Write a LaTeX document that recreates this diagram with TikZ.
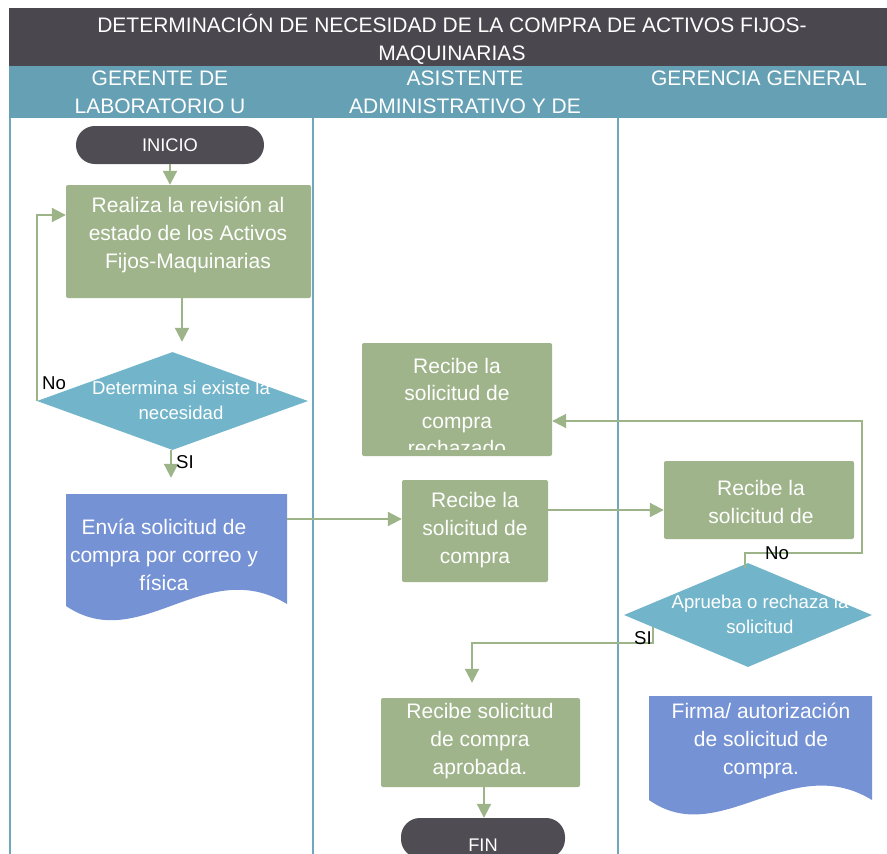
\documentclass[tikz,border=0pt]{standalone}
\usepackage{fontspec}
\setmainfont{Liberation Sans}
\usetikzlibrary{arrows.meta,shapes.geometric}
\definecolor{titlebg}{HTML}{4A474E}
\definecolor{headbg}{HTML}{65A0B4}
\definecolor{laneline}{HTML}{6FA8BC}
\definecolor{boxgreen}{HTML}{9FB48A}
\definecolor{conngreen}{HTML}{9CB488}
\definecolor{diafill}{HTML}{72B5CA}
\definecolor{docblue}{HTML}{7592D5}
\definecolor{termfill}{HTML}{4F4C53}
\tikzset{
  lane/.style={draw=laneline, line width=2pt},
  hdrtxt/.style={text=white, align=center, font=\fontsize{21}{28}\selectfont, inner sep=0pt},
  procbox/.style={rectangle, fill=boxgreen, rounded corners=2pt, inner sep=0pt},
  boxtxt/.style={text=white, align=center, font=\fontsize{21}{28}\selectfont, inner sep=0pt},
  diatxt/.style={text=white, align=center, font=\fontsize{18.6}{25}\selectfont, inner sep=0pt},
  decision/.style={diamond, fill=diafill, inner sep=0pt},
  terminal/.style={rectangle, fill=termfill, rounded corners=18.9pt, inner sep=0pt, text=white, font=\fontsize{18.3}{22}\selectfont},
  termtxt/.style={text=white, font=\fontsize{18.3}{22}\selectfont, inner sep=0pt},
  docnode/.style={rectangle, inner sep=0pt},
  conn/.style={draw=conngreen, line width=2pt},
  arr/.style={conn, -{Triangle[length=14pt,width=14pt]}},
  lbl/.style={text=black, font=\fontsize{18.6}{22}\selectfont, inner sep=0pt}
}
\begin{document}
\begin{tikzpicture}[x=1pt,y=-1pt]
\useasboundingbox (0,0) rectangle (887,854);
\clip (0,0) rectangle (887,854);
% title and header bands
\fill[titlebg] (9,8) rectangle (887,66);
\fill[headbg] (9,66) rectangle (887,118);
\node[hdrtxt] (title) at (452,39) {DETERMINACIÓN DE NECESIDAD DE LA COMPRA DE ACTIVOS FIJOS-\\MAQUINARIAS};
\node[hdrtxt] (h1) at (160,92) {GERENTE DE\\LABORATORIO U};
\node[hdrtxt] (h2) at (465,92) {ASISTENTE\\ADMINISTRATIVO Y DE};
\node[hdrtxt] (h3) at (759,78) {GERENCIA GENERAL};
% lane lines
\draw[lane] (10,118) -- (10,860);
\draw[lane] (313,118) -- (313,860);
\draw[lane] (618,118) -- (618,860);
% terminals
\node[terminal, minimum width=188pt, minimum height=38pt] (inicio) at (170,145) {INICIO};
\node[terminal, minimum width=164pt, minimum height=40pt] (fin) at (483,838) {};
\node[termtxt] (fintxt) at (483,845) {FIN};
% process boxes
\node[procbox, minimum width=245pt, minimum height=113pt] (box1) at (188.5,241.5) {};
\node[boxtxt] (t1) at (188,235) {Realiza la revisión al\\estado de los Activos\\Fijos-Maquinarias};
\node[procbox, minimum width=190pt, minimum height=113pt] (rej) at (457,399.5) {};
\begin{scope}
\clip (362,343) rectangle (552,449.5);
\node[boxtxt, font=\fontsize{21}{27.4}\selectfont] (trej) at (457,407) {Recibe la\\solicitud de\\compra\\rechazado};
\end{scope}
\node[procbox, minimum width=146pt, minimum height=102pt] (box2) at (475,531) {};
\node[boxtxt] (t2) at (475,530) {Recibe la\\solicitud de\\compra};
\node[procbox, minimum width=190pt, minimum height=78pt] (box3) at (759,500) {};
\node[boxtxt] (t3) at (761,502) {Recibe la\\solicitud de};
\node[procbox, minimum width=199pt, minimum height=89pt] (appr) at (480.5,742.5) {};
\node[boxtxt] (t4) at (480,741) {Recibe solicitud\\de compra\\aprobada.};
% decisions
\node[decision, minimum width=271pt, minimum height=98pt] (d1) at (172.5,401) {};
\node[diatxt] (td1) at (181,400) {Determina si existe la\\necesidad};
\node[decision, minimum width=248pt, minimum height=104pt] (d2) at (748,615) {};
\node[diatxt] (td2) at (760,614.5) {Aprueba o rechaza la\\solicitud};
% documents
\node[docnode, minimum width=221pt, minimum height=111pt] (doc1) at (176.5,549.5) {};
\fill[docblue] (66,494) -- (287,494) -- (287,604) .. controls (205,554) and (140,656) .. (66,606) -- cycle;
\node[boxtxt] (td1b) at (164,555) {Envía solicitud de\\compra por correo y\\física};
\node[docnode, minimum width=223pt, minimum height=104pt] (doc2) at (760.5,748) {};
\fill[docblue] (649,696) -- (872,696) -- (872,800) .. controls (790,750) and (720,850) .. (649,800) -- cycle;
\node[boxtxt] (td2b) at (761,741) {Firma/ autorización\\de solicitud de\\compra.};
% connectors
\draw[arr] (inicio.south) -- (inicio.south |- box1.north);
\coordinate (b1out) at ([xshift=-6.5pt]box1.south);
\draw[arr, shorten >=10pt] (b1out) -- (b1out |- d1.north);
\coordinate (b1in) at ([yshift=26.5pt]box1.west);
\draw[arr] (d1.west) |- (b1in);
\draw[arr, shorten >=16pt] ([xshift=-1.5pt]d1.south) -- ([xshift=-1.5pt]d1.south |- doc1.north);
\coordinate (doc1out) at ([yshift=30.5pt]doc1.east);
\draw[arr] (doc1out) -- (doc1out -| box2.west);
\coordinate (b2out) at ([yshift=21pt]box2.east);
\draw[arr] (b2out) -- (b2out -| box3.west);
\coordinate (n0) at ([shift={(-3pt,-5pt)}]d2.north);
\coordinate (nr) at (862,553);
\coordinate (rejin) at ([yshift=-21.5pt]rej.east);
\draw[arr] (n0) |- (nr) |- (rejin);
\coordinate (s0) at (653,627);
\coordinate (s1) at (472,643);
\draw[arr, shorten >=15pt] (s0) |- (s1) -- (s1 |- appr.north);
\coordinate (aout) at ([xshift=3.5pt]appr.south);
\draw[arr] (aout) -- (aout |- fin.north);
% labels
\node[lbl] (lno1) at (54,383) {No};
\node[lbl] (lsi1) at (185,462) {SI};
\node[lbl] (lno2) at (777,553) {No};
\node[lbl] (lsi2) at (643,638) {SI};
\end{tikzpicture}
\end{document}
